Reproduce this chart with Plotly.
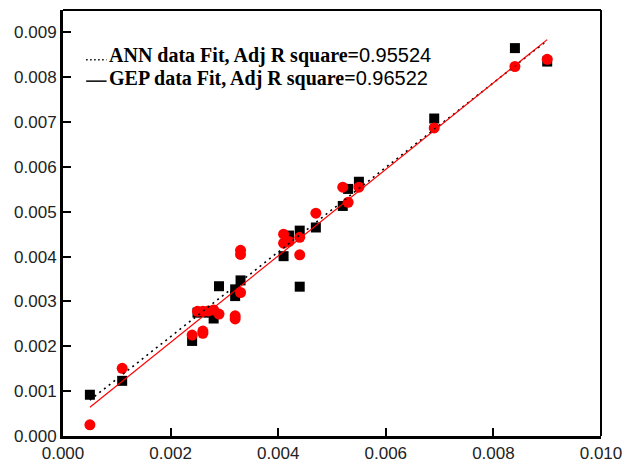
import plotly.graph_objects as go

ann_x = [0.0005, 0.0011, 0.0024, 0.0025, 0.0027, 0.0028, 0.0029, 0.0032, 0.0032, 0.0033,
         0.0041, 0.0042, 0.0044, 0.0044, 0.0047, 0.0052, 0.0053, 0.0055, 0.0069, 0.0084, 0.0090]
ann_y = [0.00092, 0.00123, 0.00212, 0.00275, 0.00275, 0.00262, 0.00334, 0.00312, 0.00327, 0.00347,
         0.00401, 0.00447, 0.00458, 0.00333, 0.00465, 0.00513, 0.00551, 0.00567, 0.00708, 0.00865, 0.00835]

gep_x = [0.0005, 0.0011, 0.0024, 0.0025, 0.0026, 0.0026, 0.0026, 0.0027, 0.0028, 0.0029,
         0.0032, 0.0032, 0.0033, 0.0033, 0.0033, 0.0041, 0.0041, 0.0042, 0.0044, 0.0044,
         0.0047, 0.0052, 0.0053, 0.0055, 0.0069, 0.0084, 0.0090]
gep_y = [0.00025, 0.00151, 0.00225, 0.00278, 0.00234, 0.00229, 0.00278, 0.00279, 0.00281, 0.00272,
         0.00268, 0.00261, 0.00320, 0.00414, 0.00405, 0.00450, 0.00430, 0.00434, 0.00443, 0.00404,
         0.00497, 0.00555, 0.00521, 0.00555, 0.00687, 0.00824, 0.00840]

fit_x = [0.0005, 0.0090]
ann_fit_y = [0.00080, 0.00882]
gep_fit_y = [0.00064, 0.00884]

legend_labels = ["ANN data Fit, Adj R square=", "GEP data Fit, Adj R square="]
legend_values = ["0.95524", "0.96522"]

x_ticks = [0.000, 0.002, 0.004, 0.006, 0.008, 0.010]
y_ticks = [0.000, 0.001, 0.002, 0.003, 0.004, 0.005, 0.006, 0.007, 0.008, 0.009]

fig = go.Figure()
fig.add_trace(go.Scatter(x=ann_x, y=ann_y, mode="markers",
                         marker=dict(symbol="square", size=10, color="black"), showlegend=False))
fig.add_trace(go.Scatter(x=gep_x, y=gep_y, mode="markers",
                         marker=dict(symbol="circle", size=11, color="#ff0000"), showlegend=False))
fig.add_trace(go.Scatter(x=fit_x, y=ann_fit_y, mode="lines",
                         line=dict(color="black", width=1.6, dash="2px,4px"), showlegend=False))
fig.add_trace(go.Scatter(x=fit_x, y=gep_fit_y, mode="lines",
                         line=dict(color="#ff0000", width=1.2), showlegend=False))

axis_common = dict(showgrid=False, zeroline=False, showline=True, linecolor="black", linewidth=3,
                   ticks="inside", ticklen=8, tickwidth=2, tickcolor="black", automargin=False,
                   tickfont=dict(family="Liberation Sans, Arial", size=17, color="#222222"),
                   tickformat=".3f")

fig.update_xaxes(range=[0, 0.010], tickvals=x_ticks, **axis_common)
fig.update_yaxes(range=[0, 0.0095], tickvals=y_ticks, **axis_common)

# top and right frame lines
fig.add_shape(type="line", xref="paper", yref="paper", x0=0, x1=1, y0=1, y1=1,
              line=dict(color="black", width=2))
fig.add_shape(type="line", xref="paper", yref="paper", x0=1, x1=1, y0=0, y1=1,
              line=dict(color="black", width=2))

# legend samples and text
text_y = [0.894, 0.840]
sample_y = [0.883, 0.833]
dashes = ["1.5px,2.5px", "solid"]
for i in range(2):
    fig.add_shape(type="line", xref="paper", yref="paper", x0=0.043, x1=0.081,
                  y0=sample_y[i], y1=sample_y[i],
                  line=dict(color="black", width=1.5, dash=dashes[i]))
    fig.add_annotation(xref="paper", yref="paper", x=0.082, y=text_y[i], xanchor="left", yanchor="middle",
                       showarrow=False,
                       text=("<b><span style='font-family:Liberation Serif'>" + legend_labels[i] +
                             "</span></b><span style='font-family:Liberation Sans'>" + legend_values[i] +
                             "</span>"),
                       font=dict(family="Liberation Serif", size=20, color="black"))

fig.update_layout(width=632, height=463, margin=dict(l=63, r=31, t=10, b=27),
                  plot_bgcolor="white", paper_bgcolor="white")

fig.write_html("out.html", config={"displayModeBar": False},
               post_script="document.body.style.margin='0';")
